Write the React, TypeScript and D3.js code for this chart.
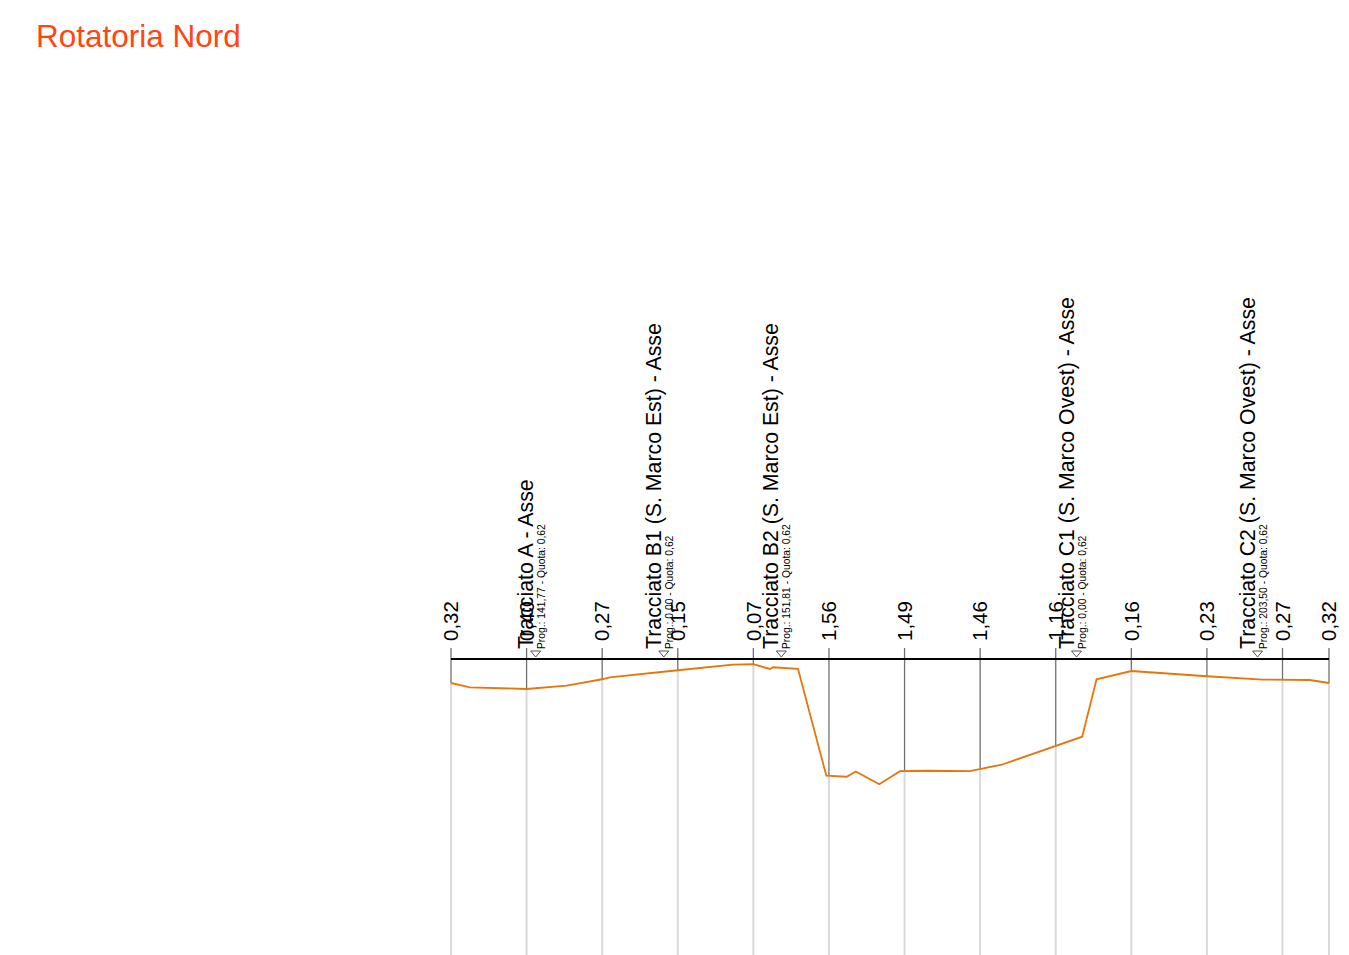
import React, { useEffect, useRef } from "react";
import { select, scaleLinear, line } from "d3";

// stations (m) of the section ticks and the depth labels under the reference line
const tickStations = [0, 20, 40, 60, 80, 100, 120, 140, 160, 180, 200, 220, 232.3];
const tickDepths = [0.32, 0.4, 0.27, 0.15, 0.07, 1.56, 1.49, 1.46, 1.16, 0.16, 0.23, 0.27, 0.32];

// ground profile (station, depth below quota 0,62)
const profileStations = [
  0, 5, 20, 30.6, 40, 42, 60, 74.6, 80, 84.4, 85.2, 91.8, 99.3, 104.7, 107.1, 113.3,
  118.8, 125.8, 137.3, 145.7, 167, 170.8, 180, 200, 214.8, 227.2, 232.3,
];
const profileDepths = [
  0.32, 0.377, 0.4, 0.356, 0.27, 0.245, 0.15, 0.076, 0.07, 0.133, 0.11, 0.13, 1.555, 1.57, 1.5, 1.67,
  1.495, 1.49, 1.495, 1.41, 1.036, 0.27, 0.16, 0.23, 0.275, 0.28, 0.32,
];

// crossing alignments
const markerNames = [
  "Tracciato A - Asse",
  "Tracciato B1 (S. Marco Est) - Asse",
  "Tracciato B2 (S. Marco Est) - Asse",
  "Tracciato C1 (S. Marco Ovest) - Asse",
  "Tracciato C2 (S. Marco Ovest) - Asse",
];
const markerStations = [22.4, 56.3, 87.4, 165.5, 213.4];
const markerProg = ["141,77", "0,00", "151,81", "0,00", "203,50"];
const markerQuota = "0,62";

const title = "Rotatoria Nord";

const fmt = (v: number) => v.toFixed(2).replace(".", ",");

const App = () => {
  const svgRef = useRef<SVGSVGElement>(null);

  useEffect(() => {
    const width = 1349;
    const height = 955;
    const font = "'Liberation Sans', Arial, sans-serif";

    const x = scaleLinear().domain([0, 232.3]).range([451, 1329]);
    const y = scaleLinear().domain([0, 1]).range([659, 734]);

    const svg = select(svgRef.current);
    svg.selectAll("*").remove();
    svg.attr("width", width).attr("height", height);

    svg
      .append("text")
      .attr("x", 36)
      .attr("y", 47)
      .attr("fill", "#ff4511")
      .attr("font-family", font)
      .attr("font-size", 31.5)
      .text(title);

    const ticks = tickStations.map((s, i) => ({ s, d: tickDepths[i] }));

    // light lines below the profile
    svg
      .append("g")
      .selectAll("line")
      .data(ticks)
      .enter()
      .append("line")
      .attr("x1", (d) => x(d.s))
      .attr("x2", (d) => x(d.s))
      .attr("y1", (d) => y(d.d))
      .attr("y2", height)
      .attr("stroke", "#d9d9d9")
      .attr("stroke-width", 2);

    // dark lines from tick down to the profile
    svg
      .append("g")
      .selectAll("line")
      .data(ticks)
      .enter()
      .append("line")
      .attr("x1", (d) => x(d.s))
      .attr("x2", (d) => x(d.s))
      .attr("y1", y(0) - 11)
      .attr("y2", (d) => y(d.d))
      .attr("stroke", "#707070")
      .attr("stroke-width", 1.3);

    // tick labels
    svg
      .append("g")
      .selectAll("text")
      .data(ticks)
      .enter()
      .append("text")
      .attr("transform", (d) => `translate(${x(d.s)},${y(0) - 18}) rotate(-90)`)
      .attr("dy", "0.35em")
      .attr("text-anchor", "start")
      .attr("font-family", font)
      .attr("font-size", 20.5)
      .attr("fill", "#000")
      .text((d) => fmt(d.d));

    // reference line
    svg
      .append("line")
      .attr("x1", x(0))
      .attr("x2", x(232.3))
      .attr("y1", y(0))
      .attr("y2", y(0))
      .attr("stroke", "#000")
      .attr("stroke-width", 2);

    // profile
    const pts: [number, number][] = profileStations.map((s, i) => [s, profileDepths[i]]);
    svg
      .append("path")
      .attr(
        "d",
        line<[number, number]>()
          .x((d) => x(d[0]))
          .y((d) => y(d[1]))(pts)
      )
      .attr("fill", "none")
      .attr("stroke", "#e6760a")
      .attr("stroke-width", 1.8);

    // markers
    const markers = markerNames.map((n, i) => ({ n, s: markerStations[i], p: markerProg[i] }));
    const mg = svg.append("g").selectAll("g").data(markers).enter().append("g");

    mg.append("path")
      .attr("d", (d) => {
        const mx = x(d.s);
        const my = y(0) - 2;
        return `M${mx - 5},${my - 6}L${mx + 5},${my - 6}L${mx},${my}Z`;
      })
      .attr("fill", "#fff")
      .attr("stroke", "#555")
      .attr("stroke-width", 1);

    mg.append("text")
      .attr("transform", (d) => `translate(${x(d.s) - 3},${y(0) - 10}) rotate(-90)`)
      .attr("font-family", font)
      .attr("font-size", 21.3)
      .attr("fill", "#000")
      .text((d) => d.n);

    mg.append("text")
      .attr("transform", (d) => `translate(${x(d.s) + 9},${y(0) - 10}) rotate(-90)`)
      .attr("font-family", font)
      .attr("font-size", 10.3)
      .attr("fill", "#000")
      .text((d) => `Prog.: ${d.p} - Quota: ${markerQuota}`);
  }, []);

  return (
    <div>
      <svg ref={svgRef} style={{ position: "absolute", left: 0, top: 0 }}></svg>
    </div>
  );
};

export default App;
